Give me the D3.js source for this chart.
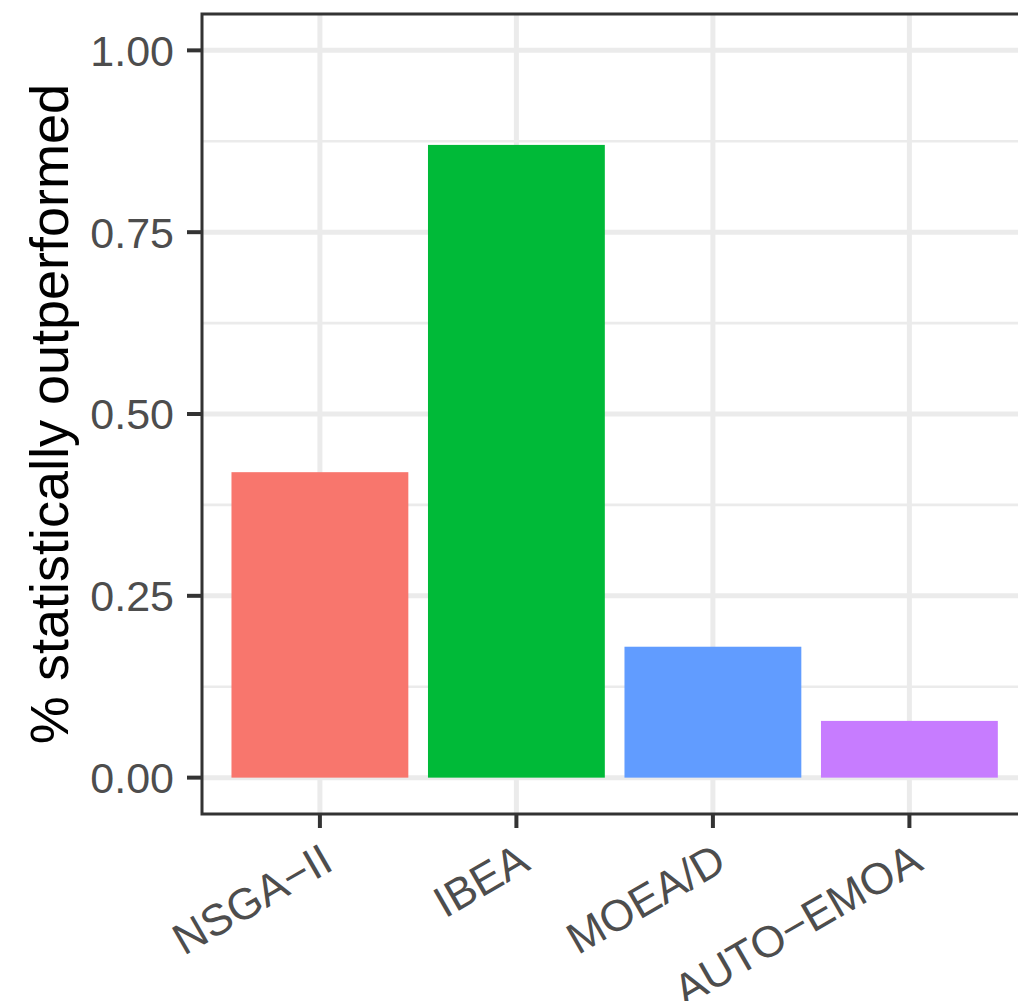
<!DOCTYPE html>
<html><head><meta charset="utf-8">
<script src="https://cdn.jsdelivr.net/npm/d3@7"></script>
<style>body{margin:0;background:#fff}</style>
</head><body>
<script>
const categories = ["NSGA\u2212II", "IBEA", "MOEA/D", "AUTO\u2212EMOA"];
const values = [0.42, 0.87, 0.18, 0.078];
const colors = ["#F8766D", "#00BA38", "#619CFF", "#C77CFF"];
const yTicks = [0, 0.25, 0.5, 0.75, 1.0];
const yMinor = [0.125, 0.375, 0.625, 0.875];
const yTitle = "% statistically outperformed";

const W = 1018, H = 1001;
const svg = d3.select("body").append("svg").attr("width", W).attr("height", H);
const font = "'Liberation Sans', Arial, Helvetica, sans-serif";

const panel = {left: 202, top: 14, bottom: 814};
const y = d3.scaleLinear().domain([-0.05, 1.05]).range([panel.bottom, panel.top]);
const step = 196.5;
const xPos = d3.scaleLinear().domain([0.4, 1]).range([panel.left, panel.left + 0.6 * step]);
const x = i => xPos(i + 1);
const panelRight = xPos(4.6);

const g = svg.append("g");
g.append("clipPath").attr("id","clip").append("rect")
  .attr("x", panel.left).attr("y", panel.top).attr("width", panelRight - panel.left).attr("height", panel.bottom - panel.top);
const pg = g.append("g").attr("clip-path","url(#clip)");

pg.selectAll(".minor").data(yMinor).join("line")
  .attr("x1", panel.left).attr("x2", panelRight)
  .attr("y1", d => y(d)).attr("y2", d => y(d))
  .attr("stroke", "#EBEBEB").attr("stroke-width", 2.7);
pg.selectAll(".majy").data(yTicks).join("line")
  .attr("x1", panel.left).attr("x2", panelRight)
  .attr("y1", d => y(d)).attr("y2", d => y(d))
  .attr("stroke", "#EBEBEB").attr("stroke-width", 5);
pg.selectAll(".majx").data(categories).join("line")
  .attr("x1", (d,i) => x(i)).attr("x2", (d,i) => x(i))
  .attr("y1", panel.top).attr("y2", panel.bottom)
  .attr("stroke", "#EBEBEB").attr("stroke-width", 5);

const bw = 0.9 * step;
pg.selectAll(".bar").data(values).join("rect")
  .attr("x", (d,i) => x(i) - bw/2).attr("width", bw)
  .attr("y", d => y(d)).attr("height", d => y(0) - y(d))
  .attr("fill", (d,i) => colors[i]);

g.append("rect").attr("x", panel.left).attr("y", panel.top)
  .attr("width", panelRight - panel.left).attr("height", panel.bottom - panel.top)
  .attr("fill", "none").attr("stroke", "#333333").attr("stroke-width", 3);

g.selectAll(".yt").data(yTicks).join("line")
  .attr("x1", panel.left - 15).attr("x2", panel.left)
  .attr("y1", d => y(d)).attr("y2", d => y(d))
  .attr("stroke", "#333333").attr("stroke-width", 4);
g.selectAll(".yl").data(yTicks).join("text")
  .attr("x", panel.left - 28).attr("y", d => y(d)).attr("dy", "0.36em")
  .attr("text-anchor", "end").attr("font-family", font).attr("font-size", 43)
  .attr("fill", "#4D4D4D").text(d => d3.format(".2f")(d));

g.selectAll(".xt").data(categories).join("line")
  .attr("x1", (d,i) => x(i)).attr("x2", (d,i) => x(i))
  .attr("y1", panel.bottom).attr("y2", panel.bottom + 14)
  .attr("stroke", "#333333").attr("stroke-width", 4);
g.selectAll(".xl").data(categories).join("text")
  .attr("transform", (d,i) => `translate(${x(i) - 1},${panel.bottom + 26}) rotate(-30)`)
  .attr("dy", "0.75em")
  .attr("text-anchor", "end").attr("font-family", font).attr("font-size", 44)
  .attr("fill", "#4D4D4D").text(d => d);

g.append("text")
  .attr("transform", `translate(68,${(panel.top + panel.bottom)/2}) rotate(-90)`)
  .attr("text-anchor", "middle").attr("font-family", font).attr("font-size", 54)
  .attr("fill", "#000").text(yTitle);
</script>
</body></html>
